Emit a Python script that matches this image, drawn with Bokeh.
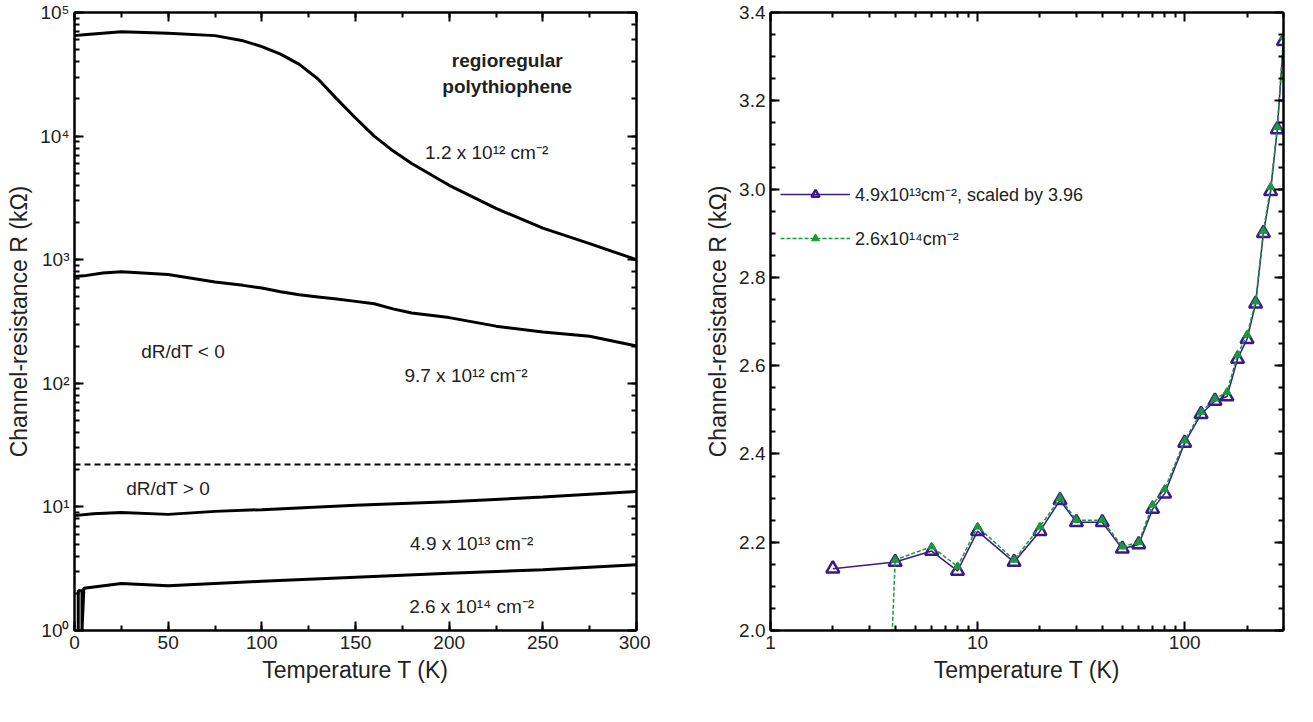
import numpy as np
from bokeh.plotting import figure
from bokeh.layouts import row
from bokeh.models import (Label, LinearAxis, LogAxis, FixedTicker, CustomJSTickFormatter,
                          Range1d, Legend, LegendItem, Span)
from bokeh.embed import file_html
from bokeh.resources import INLINE

FONT = "Liberation Sans"

## ----- DATA: left panel (linear T, log R) ----- ##
T_a = [0, 5, 15, 25, 50, 75, 90, 100, 110, 120, 130, 140, 150, 160, 170, 180, 200, 225, 250, 275, 300]
R_12e12 = [6.5e4, 6.6e4, 6.8e4, 7.0e4, 6.8e4, 6.5e4, 5.9e4, 5.3e4, 4.6e4, 3.8e4, 2.9e4, 2.0e4, 1.4e4, 1.0e4, 7.6e3, 6.0e3, 4.0e3, 2.6e3, 1.8e3, 1.35e3, 1.0e3]
R_97e12 = [7.3e2, 7.4e2, 7.8e2, 8.0e2, 7.6e2, 6.6e2, 6.2e2, 5.9e2, 5.5e2, 5.2e2, 5.0e2, 4.8e2, 4.6e2, 4.4e2, 4.0e2, 3.7e2, 3.4e2, 2.9e2, 2.6e2, 2.4e2, 2.0e2]
T_b = [0, 10, 25, 50, 75, 100, 150, 200, 250, 300]
R_49e13 = [8.5, 8.8, 9.0, 8.7, 9.2, 9.5, 10.3, 11.0, 12.0, 13.3]
T_c = [2, 2, 4, 4, 5, 25, 50, 100, 150, 200, 250, 300]
R_26e14 = [1.0, 2.1, 2.1, 1.0, 2.2, 2.4, 2.3, 2.5, 2.7, 2.9, 3.1, 3.4]
R_BOUNDARY = 22

## ----- DATA: right panel (log T, linear R) ----- ##
T_r = [2, 4, 6, 8, 10, 15, 20, 25, 30, 40, 50, 60, 70, 80, 100, 120, 140, 160, 180, 200, 220, 240, 260, 280, 300]
R_scaled = [2.14, 2.155, 2.18, 2.135, 2.225, 2.155, 2.225, 2.295, 2.245, 2.245, 2.185, 2.195, 2.275, 2.31, 2.425, 2.49, 2.52, 2.53, 2.615, 2.66, 2.74, 2.90, 2.995, 3.135, 3.335]
T_g = [3.8, 4, 6, 8, 10, 15, 20, 25, 30, 40, 50, 60, 70, 80, 100, 120, 140, 160, 180, 200, 220, 240, 260, 280, 300]
R_green = [1.9, 2.16, 2.19, 2.145, 2.235, 2.16, 2.235, 2.30, 2.25, 2.25, 2.19, 2.20, 2.285, 2.32, 2.43, 2.495, 2.525, 2.54, 2.625, 2.67, 2.745, 2.905, 3.005, 3.14, 3.345]

SUP = CustomJSTickFormatter(code="""
const s = {'0':'\u2070','1':'\u00b9','2':'\u00b2','3':'\u00b3','4':'\u2074','5':'\u2075'};
const e = Math.round(Math.log10(tick)).toString();
return '10' + e.split('').map(c => s[c]).join('');
""")


def style_axis(ax):
    ax.major_tick_in = 9
    ax.major_tick_out = 0
    ax.minor_tick_in = 5
    ax.minor_tick_out = 0
    ax.axis_line_width = 2.5
    ax.major_tick_line_width = 2
    ax.minor_tick_line_width = 2
    ax.major_label_text_font = FONT
    ax.major_label_text_font_size = "19px"
    ax.major_label_text_color = "#222222"
    ax.axis_label_text_font = FONT
    ax.axis_label_text_font_size = "23px"
    ax.axis_label_text_font_style = "normal"
    ax.axis_label_text_color = "#222222"


def mirror(ax):
    style_axis(ax)
    ax.major_label_text_font_size = "1px"
    ax.major_label_text_alpha = 0
    ax.major_label_standoff = 0
    return ax


## ----- LEFT FIGURE ----- ##
p1 = figure(width=650, height=706, y_axis_type="log", x_range=Range1d(0, 300), y_range=Range1d(1, 1e5),
            output_backend="svg", toolbar_location=None, min_border_left=74, min_border_right=14,
            min_border_top=12, min_border_bottom=68)
p1.grid.visible = False
p1.outline_line_color = None
bx1, by1 = p1.xaxis[0], p1.yaxis[0]
bx1.axis_label = "Temperature T (K)"
by1.axis_label = "Channel-resistance R (kΩ)"
bx1.ticker = FixedTicker(ticks=[0, 50, 100, 150, 200, 250, 300], minor_ticks=list(range(0, 301, 25)))
by1.formatter = SUP
style_axis(bx1)
style_axis(by1)
p1.add_layout(mirror(LinearAxis(ticker=FixedTicker(ticks=[0, 50, 100, 150, 200, 250, 300],
                                                   minor_ticks=list(range(0, 301, 25))))), "above")
p1.add_layout(mirror(LogAxis()), "right")

for xs, ys in [(T_a, R_12e12), (T_a, R_97e12), (T_b, R_49e13), (T_c, R_26e14)]:
    p1.line(xs, ys, line_width=3, line_color="black")
p1.add_layout(Span(location=R_BOUNDARY, dimension="width", line_dash="6 4", line_width=2, line_color="black"))

labels1 = [
    (231, 4.1e4, "regioregular", "bold"),
    (231, 2.5e4, "polythiophene", "bold"),
    (220, 7.4e3, "1.2 x 10¹² cm⁻²", "normal"),
    (58, 1.8e2, "dR/dT < 0", "normal"),
    (209, 1.15e2, "9.7 x 10¹² cm⁻²", "normal"),
    (50, 14, "dR/dT > 0", "normal"),
    (212, 5.1, "4.9 x 10¹³ cm⁻²", "normal"),
    (212, 1.56, "2.6 x 10¹⁴ cm⁻²", "normal"),
]
for x, y, t, st in labels1:
    p1.add_layout(Label(x=x, y=y, text=t, text_align="center", text_baseline="middle",
                        text_font=FONT, text_font_size="19px", text_font_style=st, text_color="#222222"))

## ----- RIGHT FIGURE ----- ##
p2 = figure(width=645, height=706, x_axis_type="log", x_range=Range1d(1, 300), y_range=Range1d(2.0, 3.4),
            output_backend="svg", toolbar_location=None, min_border_left=120, min_border_right=12,
            min_border_top=12, min_border_bottom=76)
p2.grid.visible = False
p2.outline_line_color = None
bx2, by2 = p2.xaxis[0], p2.yaxis[0]
bx2.axis_label = "Temperature T (K)"
by2.axis_label = "Channel-resistance R (kΩ)"
XMINOR = [k * 10 ** d for d in range(3) for k in range(2, 10)]
YMINOR = [2.0 + 0.05 * i for i in range(29)]
bx2.ticker = FixedTicker(ticks=[1, 10, 100], minor_ticks=XMINOR)
bx2.formatter = CustomJSTickFormatter(code="return tick.toFixed(0);")
by2.ticker = FixedTicker(ticks=[2.0, 2.2, 2.4, 2.6, 2.8, 3.0, 3.2, 3.4], minor_ticks=YMINOR)
by2.formatter = CustomJSTickFormatter(code="return tick.toFixed(1);")
style_axis(bx2)
style_axis(by2)
p2.add_layout(mirror(LogAxis(ticker=FixedTicker(ticks=[1, 10, 100], minor_ticks=XMINOR))), "above")
p2.add_layout(mirror(LinearAxis(ticker=FixedTicker(ticks=[2.0, 2.2, 2.4, 2.6, 2.8, 3.0, 3.2, 3.4],
                                                   minor_ticks=YMINOR))), "right")

PURPLE = "#3a1a8c"
GREEN = "#1a9a3a"
l1 = p2.line(T_r, R_scaled, line_width=1.5, line_color=PURPLE)
m1 = p2.scatter(T_r, R_scaled, marker="triangle", size=13, fill_color=None, line_color=PURPLE, line_width=2.5)
l2 = p2.line(T_g, R_green, line_width=1.5, line_color=GREEN, line_dash="4 2")
m2 = p2.scatter(T_g[1:], R_green[1:], marker="triangle", size=8, fill_color=GREEN, line_color=GREEN)

legend = Legend(items=[LegendItem(label="4.9x10¹³cm⁻², scaled by 3.96", renderers=[l1, m1]),
                       LegendItem(label="2.6x10¹⁴cm⁻²", renderers=[l2, m2])],
                location=(10, 380), border_line_color=None, background_fill_alpha=0,
                label_text_font=FONT, label_text_font_size="18px", label_text_color="#222222",
                glyph_width=70, spacing=20)
p2.add_layout(legend)

open("out.html", "w").write(file_html(row(p1, p2), INLINE))
